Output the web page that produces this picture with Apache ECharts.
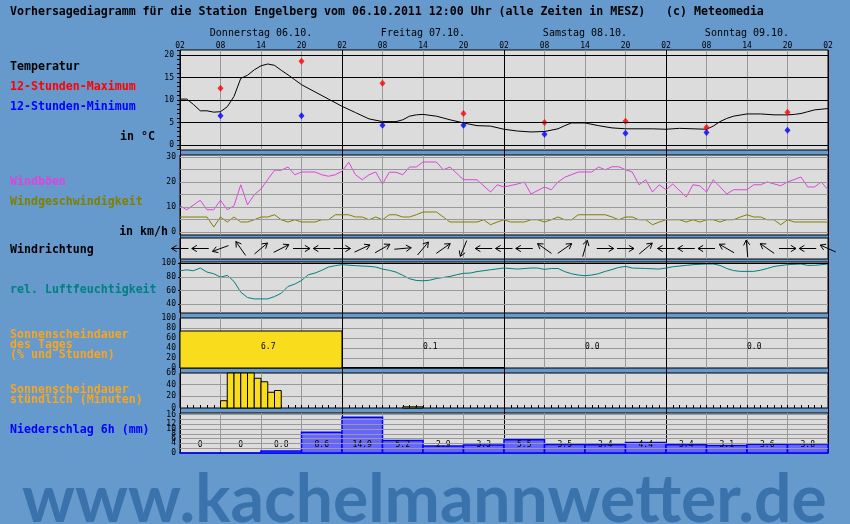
<!DOCTYPE html>
<html><head><meta charset="utf-8">
<script src="https://cdn.jsdelivr.net/npm/echarts@6/dist/echarts.min.js"></script>
<style>html,body{margin:0;padding:0;background:#6699cc}#c{width:850px;height:524px}</style>
</head><body><div id="c"></div>
<script>
// ---------- data ----------
const hourTicks = ['02','08','14','20'];
const dayLabels = ['Donnerstag 06.10.','Freitag 07.10.','Samstag 08.10.','Sonntag 09.10.'];

const tempHours = [0,1,2,3,4,5,6,7,8,9,10,11,12,13,14,15,16,17,18,20,22,24,26,28,30,32,33,34,35,36,38,40,42,44,46,48,50,52,54,56,57,58,60,62,64,66,68,70,72,74,76,78,79,80,81,82,84,86,88,90,91,92,93,94,96];
const tempValues = [10.2,10.2,9.0,7.6,7.6,7.3,7.4,8.5,10.8,14.8,15.5,16.7,17.6,18.0,17.7,16.6,15.6,14.5,13.4,11.8,10.2,8.6,7.2,5.8,5.2,5.2,5.6,6.4,6.7,6.8,6.4,5.6,4.9,4.3,4.2,3.5,3.1,2.9,3.0,3.6,4.3,4.9,4.9,4.3,3.8,3.6,3.6,3.6,3.5,3.7,3.6,3.5,4.2,5.2,5.9,6.4,6.9,6.9,6.7,6.7,6.8,7.0,7.4,7.8,8.1];
const extremeHours = [6,18,30,42,54,66,78,90];
const maxValues = [12.6,18.6,13.7,7.0,5.0,5.3,3.9,7.3];
const minValues = [6.5,6.5,4.4,4.4,2.4,2.6,2.8,3.3];

const gustHours = [0,1,3,4,5,6,7,8,9,10,11,12,13,14,15,16,17,18,20,21,22,23,24,25,26,27,28,29,30,31,32,33,34,35,36,38,39,40,42,44,46,47,48,50,51,52,54,55,56,57,59,61,62,63,64,65,66,67,68,69,70,71,72,73,75,76,77,78,79,81,82,84,85,86,87,89,90,92,93,94,95,96];
const gustValues = [10.5,8.9,12.7,8.9,8.9,12.7,8.9,10.5,18.9,10.9,14.9,17.2,21,24.7,24.7,26,22.9,24,24,22.9,22.3,22.9,24.3,27.9,22.9,20.9,22.9,24,19.2,23.9,23.9,22.9,26,26,28,28,24.9,26,20.9,20.9,16,18.9,18,19.2,20,15.2,18,16.9,20,21.9,24,24,26,24.9,26.1,26.1,24.9,24,18.9,20.9,16,18.9,16.9,19.2,14,18.9,18.5,16,20.9,15.2,16.9,16.9,18.9,18.9,20,18.5,20,22,18,18,20,16.9];

const windHours = [0,4,5,6,7,8,9,10,11,12,13,14,15,16,17,18,20,21,22,23,25,26,27,28,29,30,31,32,33,34,35,36,38,39,40,44,45,46,47,48,49,51,52,53,54,55,56,57,58,59,63,64,65,66,67,68,69,70,71,72,74,75,76,77,78,79,80,81,82,83,84,85,86,87,88,89,90,91,96];
const windValues = [6,6,2,6,4,6,4,4,4.9,6,6,6.9,4.9,4,4.9,4,4,4.9,4.9,6.9,6.9,6,6,4.9,6,4.9,6.9,6.9,6,6,6.9,8,8,6,4,4,4.9,2.9,4,4.9,4,4,4.9,4.9,4,4.9,6,4.9,4.9,6.9,6.9,6,4.9,6,6,4.9,4.9,2.9,4,4.9,4.9,4,4.9,4,4.9,4.9,4,4.9,4.9,6,6.9,6,6,4.9,4.9,2.9,4.9,4,4];

const dirHours = [0,3,6,9,12,15,18,21,24,27,30,33,36,39,42,45,48,51,54,57,60,63,66,69,72,75,78,81,84,87,90,93,96];
const dirAngles = [180,180,200,125,40,27,0,180,0,25,30,5,50,35,248,180,180,180,145,35,74,0,0,40,180,180,180,150,95,145,0,180,156];

const humHours = [0,1,2,3,4,5,6,7,8,9,10,11,13,14,15,16,17,18,19,20,21,22,23,24,26,28,29,30,31,32,33,34,35,36,37,38,39,40,41,42,43,44,46,48,50,52,53,54,55,56,57,58,59,60,61,62,63,64,65,66,67,69,71,72,73,75,76,78,79,80,81,82,83,85,86,87,88,90,92,93,94,96];
const humValues = [88.8,90,88.8,92.7,86.8,84.4,79.5,82,73.2,57.6,49.8,47.8,47.8,51.2,56,65.9,69.3,74.6,82.9,85.4,89.3,94.1,96.1,97.6,96.1,95.1,94.1,91.2,89.3,86.8,82,77.1,74.6,74.1,75,77.5,79,80.5,83,85,85.4,87.5,90.2,92.7,91.2,92.7,92.7,90.7,92,92,87.5,84.4,82.5,81.5,82.5,84.5,87.8,90.5,93.5,95.1,92.7,92,91.2,92.7,94.5,96.6,97.6,98.5,98.5,96.5,92,89,87.8,87.8,89.5,92,95,97.6,98.5,96.6,96.6,98.5];

const sunDayStart = [0,24,48,72];
const sunDayPercent = [74,1,0,0];
const sunDayHours = [6.7,0.1,0.0,0.0];

const sunHourStart = [6,7,8,9,10,11,12,13,14,33,34,35];
const sunHourMinutes = [12.5,60,60,60,60,51,45,27,30,2,2,2];

const precipStart = [0,6,12,18,24,30,36,42,48,54,60,66,72,78,84,90];
const precipValues = [0,0,0.8,8.6,14.9,5.2,2.9,3.3,5.5,3.5,3.4,4.4,3.4,3.1,3.6,3.8];

const tempTicks = [0,5,10,15,20];
const windTicks = [0,10,20,30];
const windGrid = [0,5,10,15,20,25,30];
const humTicks = [40,60,80,100];
const precipTicks = [0,2,4,6,8,10,12,14,16];

// ---------- layout / style ----------
const MONO = '"DejaVu Sans Mono","Liberation Mono",monospace';
const GRAY = '#999999';
const panels = [
  {top:50, h:100}, {top:155, h:80}, {top:238, h:21}, {top:262, h:51},
  {top:318, h:50}, {top:373, h:35}, {top:413, h:40}
];
const pair = (xs, ys) => xs.map((x,i)=>[x, ys[i]]);
const range = (a,b)=>{const r=[];for(let i=a;i<=b;i++)r.push(i);return r;};

const chart = echarts.init(document.getElementById('c'), null, {renderer:'canvas'});

const grids = panels.map(p=>({left:180, width:648, top:p.top, height:p.h, show:true,
  backgroundColor:'#dcdcdc', borderColor:'#000', borderWidth:1, containLabel:false}));
grids.push({left:180, width:648, top:50, height:403, show:false, containLabel:false});

const xAxes = panels.map((p,i)=>({type:'value', gridIndex:i, min:0, max:96, interval:6,
  axisLine:{show:false}, axisTick:{show:false}, axisLabel:{show:false},
  splitLine:{show:true, showMinLine:false, showMaxLine:false, lineStyle:{color:GRAY, width:1}}}));
// top hour labels
Object.assign(xAxes[0], {position:'top', axisLabel:{show:true, margin:0, fontSize:8, fontFamily:MONO, color:'#000',
  showMinLabel:true, showMaxLabel:true, formatter:v=>hourTicks[Math.round(v/6)%4]}});
// hourly ticks on sunshine panel
Object.assign(xAxes[5], {axisTick:{show:true, inside:true, length:3, lineStyle:{color:'#000'}},
  minorTick:{show:true, splitNumber:6, length:3, lineStyle:{color:'#000'}}});
// day labels
xAxes.push({type:'category', gridIndex:0, position:'top', offset:10, data:dayLabels,
  axisLine:{show:false}, axisTick:{show:false}, splitLine:{show:false},
  axisLabel:{interval:0, margin:2, fontSize:10, fontFamily:MONO, color:'#000'}});
// day boundary overlay
xAxes.push({type:'value', gridIndex:7, min:0, max:96, interval:24, z:3,
  axisLine:{show:false}, axisTick:{show:false}, axisLabel:{show:false},
  splitLine:{show:true, lineStyle:{color:'#000', width:1}}});

const lab = {fontSize:8, fontFamily:MONO, color:'#000', showMinLabel:true, showMaxLabel:true};
const yAxes = [
  {type:'value', gridIndex:0, min:-1.11, max:21.11, splitLine:{show:false}, axisLine:{show:false},
    axisLabel:Object.assign({customValues:tempTicks, margin:6}, lab),
    axisTick:{show:true, customValues:range(-1,21), length:3, lineStyle:{color:'#000'}}},
  {type:'value', gridIndex:1, min:-1.2, max:30.8, splitLine:{show:false}, axisLine:{show:false},
    axisLabel:Object.assign({customValues:windTicks, margin:4}, lab), axisTick:{show:false}},
  {type:'value', gridIndex:2, min:0, max:1, show:false},
  {type:'value', gridIndex:3, min:27.3, max:101.45, splitLine:{show:false}, axisLine:{show:false},
    axisLabel:Object.assign({customValues:humTicks, margin:4}, lab),
    axisTick:{show:true, customValues:humTicks, length:2, lineStyle:{color:'#000'}}},
  {type:'value', gridIndex:4, min:0, max:100, interval:20, splitLine:{show:true, showMinLine:false, showMaxLine:false, lineStyle:{color:GRAY}},
    axisLine:{show:false}, axisTick:{show:false}, axisLabel:Object.assign({margin:4}, lab)},
  {type:'value', gridIndex:5, min:0, max:60, interval:20, splitLine:{show:true, showMinLine:false, showMaxLine:false, lineStyle:{color:GRAY}},
    axisLine:{show:false}, axisTick:{show:false}, axisLabel:Object.assign({margin:4}, lab)},
  {type:'value', gridIndex:6, min:0, max:16.67, splitLine:{show:false}, axisLine:{show:false}, axisTick:{show:false},
    axisLabel:Object.assign({customValues:precipTicks, margin:4, hideOverlap:false}, lab)},
  {type:'value', gridIndex:7, min:0, max:1, show:false}
];

function gridLineSeries(i, vals, color){
  return {type:'line', xAxisIndex:i, yAxisIndex:i, data:[], z:1, silent:true,
    markLine:{silent:true, symbol:['none','none'], animation:false, emphasis:{disabled:true},
      label:{show:false}, lineStyle:{type:'solid', width:1, color:color},
      data: vals.map(v=>({yAxis:v}))}};
}

const series = [
  gridLineSeries(0, tempTicks, '#000'),
  gridLineSeries(1, windGrid, GRAY),
  gridLineSeries(3, [40,60,80], GRAY),
  gridLineSeries(3, [100], '#000'),
  gridLineSeries(6, precipTicks.filter(v=>v>0), GRAY),
  {type:'line', xAxisIndex:0, yAxisIndex:0, data:pair(tempHours,tempValues), showSymbol:false, z:3,
    lineStyle:{color:'#000', width:1}, animation:false},
  {type:'scatter', xAxisIndex:0, yAxisIndex:0, data:pair(extremeHours,maxValues), symbol:'diamond', symbolSize:[6,7],
    itemStyle:{color:'#ff0000'}, z:4, animation:false},
  {type:'scatter', xAxisIndex:0, yAxisIndex:0, data:pair(extremeHours,minValues), symbol:'diamond', symbolSize:[6,7],
    itemStyle:{color:'#0000ff'}, z:4, animation:false},
  {type:'line', xAxisIndex:1, yAxisIndex:1, data:pair(gustHours,gustValues), showSymbol:false, z:3,
    lineStyle:{color:'#dd44dd', width:1}, animation:false},
  {type:'line', xAxisIndex:1, yAxisIndex:1, data:pair(windHours,windValues), showSymbol:false, z:3,
    lineStyle:{color:'#808000', width:1}, animation:false},
  {type:'custom', xAxisIndex:2, yAxisIndex:2, data:pair(dirHours,dirAngles), clip:false, z:3, animation:false,
    renderItem:function(params, api){
      const a = api.value(1)*Math.PI/180;
      const c = api.coord([api.value(0), 0.5]);
      const L = 8.5, dx = Math.cos(a), dy = -Math.sin(a);
      const tip = [c[0]+dx*L, c[1]+dy*L], tail = [c[0]-dx*L, c[1]-dy*L];
      const hl = 6, ha = 0.55, b = a + Math.PI;
      const w1 = [tip[0]+Math.cos(b+ha)*hl, tip[1]-Math.sin(b+ha)*hl];
      const w2 = [tip[0]+Math.cos(b-ha)*hl, tip[1]-Math.sin(b-ha)*hl];
      return {type:'group', children:[
        {type:'line', shape:{x1:tail[0],y1:tail[1],x2:tip[0],y2:tip[1]}, style:{stroke:'#000', lineWidth:1}},
        {type:'polyline', shape:{points:[w1,tip,w2]}, style:{stroke:'#000', fill:null, lineWidth:1}}
      ]};
    }},
  {type:'line', xAxisIndex:3, yAxisIndex:3, data:pair(humHours,humValues), showSymbol:false, z:3,
    lineStyle:{color:'#008080', width:1}, animation:false},
  {type:'custom', xAxisIndex:4, yAxisIndex:4, data:sunDayStart.map((s,i)=>[s, sunDayPercent[i], sunDayHours[i]]), z:3, animation:false,
    renderItem:function(params, api){
      const s = api.value(0);
      const p0 = api.coord([s, api.value(1)]), p1 = api.coord([s+24, 0]);
      const cs = params.coordSys;
      const ch = [];
      if (api.value(1) > 0) ch.push({type:'rect', shape:{x:p0[0], y:p0[1], width:p1[0]-p0[0], height:p1[1]-p0[1]},
        style:{fill:'#f9dc1c', stroke:'#000', lineWidth:1}});
      ch.push({type:'text', x:(p0[0]+p1[0])/2, y:cs.y+cs.height*0.57, z2:5,
        style:{text:api.value(2).toFixed(1), font:'8px '+MONO, fill:'#000', align:'left', verticalAlign:'middle'}});
      return {type:'group', children:ch};
    }},
  {type:'custom', xAxisIndex:5, yAxisIndex:5, data:pair(sunHourStart,sunHourMinutes), z:3, animation:false,
    renderItem:function(params, api){
      const s = api.value(0);
      const p0 = api.coord([s, api.value(1)]), p1 = api.coord([s+1, 0]);
      return {type:'rect', shape:{x:p0[0], y:p0[1], width:p1[0]-p0[0], height:p1[1]-p0[1]},
        style:{fill:'#f9dc1c', stroke:'#000', lineWidth:1}};
    }},
  {type:'custom', xAxisIndex:6, yAxisIndex:6, data:pair(precipStart,precipValues), z:3, animation:false, clip:false,
    renderItem:function(params, api){
      const s = api.value(0), v = api.value(1);
      const p0 = api.coord([s, v]), p1 = api.coord([s+6, 0]);
      const cs = params.coordSys;
      return {type:'group', children:[
        {type:'rect', shape:{x:p0[0], y:p0[1], width:p1[0]-p0[0], height:Math.max(p1[1]-p0[1],0.01)},
          style:{fill:'#6666ff', stroke:'#0000ff', lineWidth:1.5}},
        {type:'text', x:(p0[0]+p1[0])/2, y:cs.y+cs.height*0.8, z2:5,
          style:{text: v===0 ? '0' : v.toFixed(1), font:'8px '+MONO, fill:'#000', align:'center', verticalAlign:'middle'}}
      ]};
    }}
];

const BF = 'bold 11.6px '+MONO;
function T(text, x, y, color, align){
  return {type:'text', x:x, y:y, silent:true,
    style:{text:text, font:BF, fill:color||'#000', align:align||'left', verticalAlign:'middle'}};
}
const graphic = [
  T('Vorhersagediagramm für die Station Engelberg vom 06.10.2011 12:00 Uhr (alle Zeiten in MESZ)   (c) Meteomedia', 10, 12),
  T('Temperatur', 10, 67),
  T('12-Stunden-Maximum', 10, 87, '#ff0000'),
  T('12-Stunden-Minimum', 10, 107, '#0000ff'),
  T('in °C', 155, 137, '#000', 'right'),
  T('Windböen', 10, 182, '#dd44dd'),
  T('Windgeschwindigkeit', 10, 202, '#808000'),
  T('in km/h', 168, 232, '#000', 'right'),
  T('Windrichtung', 10, 250),
  T('rel. Luftfeuchtigkeit', 10, 290, '#008080'),
  T('Sonnenscheindauer', 10, 335, '#f5a623'),
  T('des Tages', 10, 345, '#f5a623'),
  T('(% und Stunden)', 10, 354.5, '#f5a623'),
  T('Sonnenscheindauer', 10, 390, '#f5a623'),
  T('stündlich (Minuten)', 10, 399.5, '#f5a623'),
  T('Niederschlag 6h (mm)', 10, 430, '#0000ff'),
  {type:'text', x:22, y:534, silent:true, z:-1,
    style:{text:'www.kachelmannwetter.de', font:'bold 66px Lato', fill:'#3a72ab', align:'left', verticalAlign:'bottom'}}
];

chart.setOption({
  animation:false,
  backgroundColor:'#6699cc',
  grid:grids, xAxis:xAxes, yAxis:yAxes, series:series, graphic:graphic
});
</script></body></html>
